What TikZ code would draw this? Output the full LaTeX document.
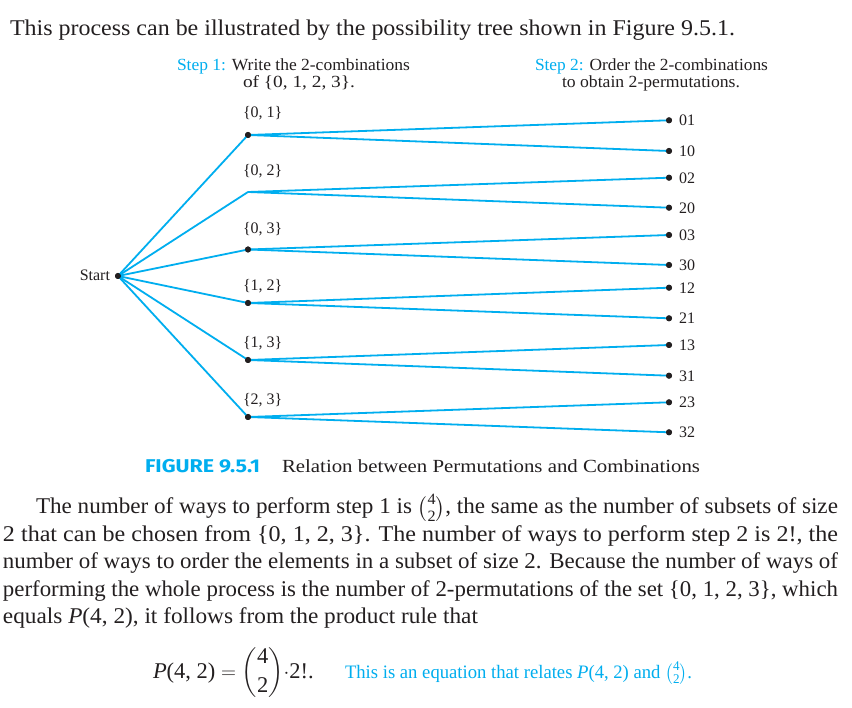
\documentclass[tikz,border=0pt]{standalone}
\usepackage{fontspec}
\usepackage{amsmath}
\usepackage{graphicx}
\setmainfont{Liberation Serif}
\newfontfamily\capfont{Fira Sans}
\definecolor{cy}{RGB}{0,174,239}
\definecolor{ink}{RGB}{35,31,32}
\newlength\fitw
\newcommand\fitto[2]{\settowidth\fitw{#2}\scalebox{\fpeval{#1/(\fitw)}}[1]{#2}}
\begin{document}
\begin{tikzpicture}[x=1pt,y=-1pt,
  txt/.style={inner sep=0pt, outer sep=0pt, text=ink, anchor=base west},
  ctxt/.style={txt, anchor=base},
  dot/.style={circle, fill=ink, inner sep=0pt, minimum size=6pt},
  branch/.style={draw=cy, line width=1.8pt},
  big/.style={font=\fontsize{22.5}{27}\selectfont},
  hdr/.style={font=\fontsize{17}{20}\selectfont},
  lab/.style={font=\fontsize{16}{19}\selectfont}]
\useasboundingbox (0,0) rectangle (852,708);
\fill[white] (0,0) rectangle (852,708);

% title
\node[txt,big] (title) at (10,36) {\fitto{725}{This process can be illustrated by the possibility tree shown in Figure 9.5.1.}};

% step headers
\node[txt,hdr] (s1a) at (177,70.7) {\fitto{233}{\textcolor{cy}{Step 1:} Write the 2-combinations}};
\node[ctxt,hdr] (s1b) at (299,88) {\fitto{112}{of \{0, 1, 2, 3\}.}};
\node[txt,hdr] (s2a) at (535,70.7) {\fitto{233}{\textcolor{cy}{Step 2:} Order the 2-combinations}};
\node[ctxt,hdr] (s2b) at (651,88) {\fitto{178}{to obtain 2-permutations.}};

% tree nodes
\node[dot] (st) at (118,276) {};
\node[txt,lab,anchor=base east] (stl) at (110,281) {Start};
\node[dot] (m1) at (248,135) {};
\coordinate (m2) at (248,192);
\node[dot] (m3) at (248,249.5) {};
\node[dot] (m4) at (248,303) {};
\node[dot] (m5) at (248,360) {};
\node[dot] (m6) at (248,417) {};
\node[txt,lab] (t1) at (243,118) {\{0, 1\}};
\node[txt,lab] (t2) at (243,176) {\{0, 2\}};
\node[txt,lab] (t3) at (243,234) {\{0, 3\}};
\node[txt,lab] (t4) at (243,291) {\{1, 2\}};
\node[txt,lab] (t5) at (243,348) {\{1, 3\}};
\node[txt,lab] (t6) at (243,405) {\{2, 3\}};

\foreach \i/\y/\t in {1/120.3/01, 2/151/10, 3/177.7/02, 4/207.7/20, 5/235/03, 6/265/30,
                      7/287.7/12, 8/318.3/21, 9/345/13, 10/375.7/31, 11/402.3/23, 12/432.3/32}{
  \node[dot] (l\i) at (669,\y) {};
  \node[txt,lab] (lt\i) at (679,\y+5.5) {\t};
}

\foreach \m in {m1,m2,m3,m4,m5,m6}{
  \draw[branch] (st.center) -- (\m.center);
}
\foreach \m/\a/\b in {m1/l1/l2, m2/l3/l4, m3/l5/l6, m4/l7/l8, m5/l9/l10, m6/l11/l12}{
  \draw[branch] (\m.center) -- (\a.center);
  \draw[branch] (\m.center) -- (\b.center);
}
\foreach \n in {st,m1,m3,m4,m5,m6}{ \fill[ink] (\n.center) circle (3pt); }
\foreach \i in {1,...,12}{ \fill[ink] (l\i.center) circle (3pt); }

% caption
\node[txt,font=\capfont\bfseries\fontsize{18.5}{22}\selectfont,text=cy] (fig) at (145,472.7) {\fitto{115}{FIGURE 9.5.1}};
\node[txt,font=\fontsize{18.5}{22}\selectfont] (cap) at (282,472.7) {\fitto{418}{Relation between Permutations and Combinations}};

% paragraph
\node[txt,big] (p1) at (36,514) {\fitto{802}{The number of ways to perform step 1 is $\binom{\textrm{4}}{\textrm{2}}$, the same as the number of subsets of size}};
\node[txt,big] (p2) at (3,541.5) {\fitto{835}{2 that can be chosen from \{0, 1, 2, 3\}. The number of ways to perform step 2 is 2!, the}};
\node[txt,big] (p3) at (3,568.5) {\fitto{835}{number of ways to order the elements in a subset of size 2. Because the number of ways of}};
\node[txt,big] (p4) at (3,596) {\fitto{835}{performing the whole process is the number of 2-permutations of the set \{0, 1, 2, 3\}, which}};
\node[txt,big] (p5) at (3,623) {\fitto{475}{equals \textit{P}(4, 2), it follows from the product rule that}};

% equation
\node[txt,big] (eq) at (153,678) {\textit{P}(4, 2) $=\displaystyle\binom{\textrm{4}}{\textrm{2}}\cdot$2!.};
\node[txt,font=\fontsize{19}{23}\selectfont,text=cy] (note) at (345,678) {\fitto{347}{This is an equation that relates \textit{P}(4, 2) and $\binom{\textrm{4}}{\textrm{2}}$.}};
\end{tikzpicture}
\end{document}
